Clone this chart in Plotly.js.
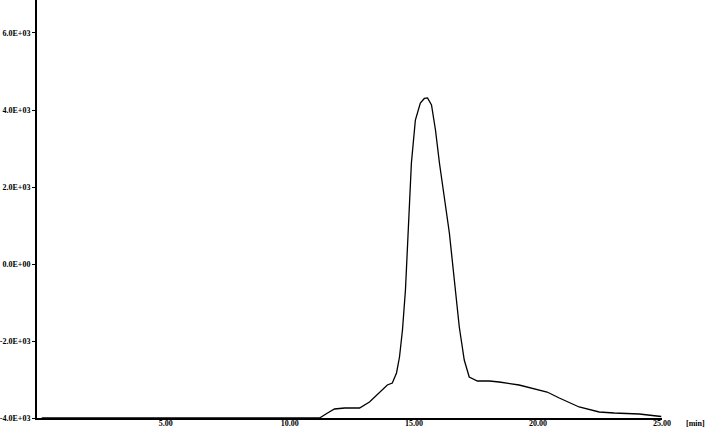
<!DOCTYPE html>
<html>
<head>
<meta charset="utf-8">
<script src="https://cdn.plot.ly/plotly-3.0.1.min.js"></script>
<style>
  body { margin: 0; padding: 0; background: #fff; }
  #chart { width: 709px; height: 427px; }
</style>
</head>
<body>
<div id="chart"></div>
<script>
// retention time (min) and detector signal
const timeMin = [0, 11.2, 11.52, 11.8, 12.21, 12.81, 13.21, 13.61, 13.93, 14.13, 14.3, 14.42,
  14.54, 14.66, 14.74, 14.82, 14.9, 15.06, 15.26, 15.42, 15.55, 15.71, 15.87, 16.03, 16.19,
  16.43, 16.63, 16.83, 17.03, 17.23, 17.56, 18.04, 18.44, 19.24, 20.37, 20.86, 21.66, 22.47,
  23.07, 24.08, 24.97];
const signal = [-4000, -4000, -3870, -3766, -3740, -3740, -3584, -3351, -3143, -3091, -2831, -2416,
  -1714, -675, 442, 1532, 2623, 3740, 4182, 4299, 4312, 4130, 3481, 2623, 1844,
  805, -416, -1636, -2494, -2935, -3039, -3039, -3065, -3143, -3325, -3481, -3714, -3844,
  -3870, -3896, -3961];

const xTickVals = [5, 10, 15, 20, 25];
const xTickText = ['5.00', '10.00', '15.00', '20.00', '25.00'];
const yTickVals = [-4000, -2000, 0, 2000, 4000, 6000];
const yTickText = ['-4.0E+03', '-2.0E+03', '0.0E+00', '2.0E+03', '4.0E+03', '6.0E+03'];

const tickFont = { family: 'Liberation Serif', size: 8, color: '#000', weight: 'bold' };

const data = [{
  x: timeMin,
  y: signal,
  mode: 'lines',
  line: { color: '#000', width: 1.3, shape: 'linear' },
  hoverinfo: 'skip'
}];

const layout = {
  width: 709,
  height: 427,
  margin: { l: 37, r: 47, t: 0, b: 9 },
  paper_bgcolor: '#fff',
  plot_bgcolor: '#fff',
  showlegend: false,
  xaxis: {
    range: [-0.19, 25.0],
    tickmode: 'array',
    tickvals: xTickVals,
    ticktext: xTickText,
    ticks: '',
    ticklabelstandoff: -4,
    tickfont: tickFont,
    showgrid: false,
    zeroline: false,
    showline: true,
    linecolor: '#000',
    linewidth: 2
  },
  yaxis: {
    range: [-4000, 6857],
    tickmode: 'array',
    tickvals: yTickVals,
    ticktext: yTickText,
    ticks: 'outside',
    ticklen: 3,
    tickwidth: 1,
    tickcolor: '#000',
    ticklabelstandoff: 0,
    tickfont: tickFont,
    showgrid: false,
    zeroline: false,
    showline: true,
    linecolor: '#000',
    linewidth: 2
  },
  annotations: [{
    text: '[min]',
    xref: 'paper', yref: 'paper',
    x: 1.053, y: 0,
    xanchor: 'center', yanchor: 'middle',
    yshift: -5,
    showarrow: false,
    font: tickFont
  }]
};

Plotly.newPlot('chart', data, layout, { displayModeBar: false, staticPlot: true });
</script>
</body>
</html>
